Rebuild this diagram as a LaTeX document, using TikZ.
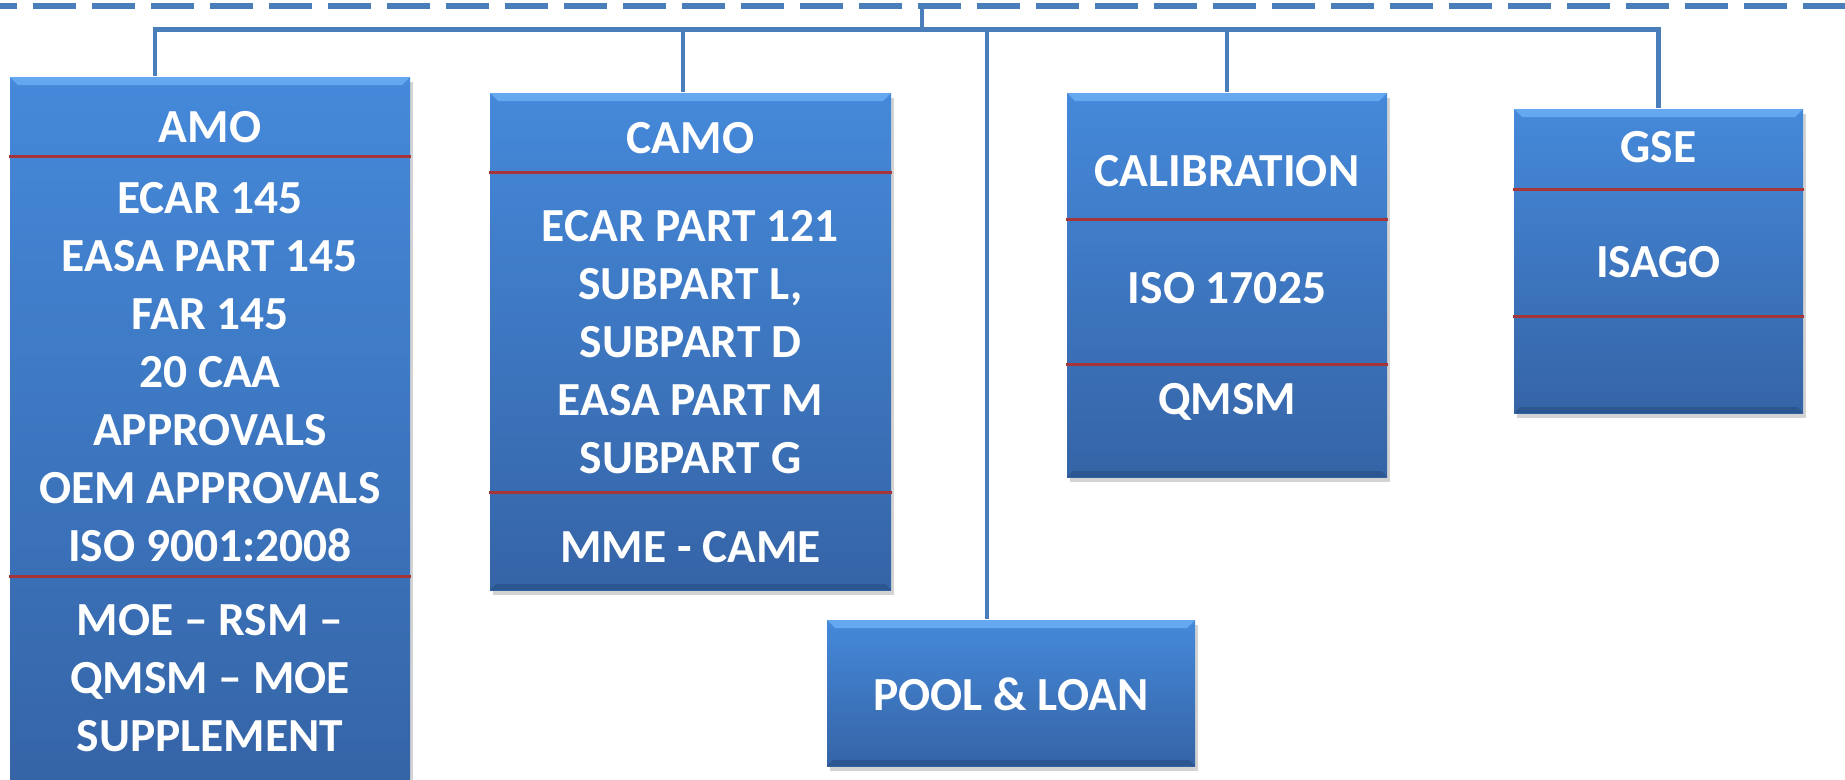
\documentclass[tikz,border=0pt]{standalone}
\usepackage{fontspec}
\setmainfont{Carlito}
\usetikzlibrary{shadows, calc}

\definecolor{boxtop}{HTML}{4589DA}
\definecolor{boxbottom}{HTML}{3564A6}
\definecolor{bevel}{HTML}{66A8F0}
\definecolor{rim}{HTML}{2C5690}
\definecolor{linkblue}{HTML}{4A7EBB}
\definecolor{divred}{HTML}{A53538}

\begin{document}
\begin{tikzpicture}[
    box/.style={rectangle, inner sep=0pt, top color=boxtop, bottom color=boxbottom,
      drop shadow={shadow xshift=0.03cm, shadow yshift=-0.05cm, opacity=0.35},
      path picture={
        \fill[bevel] (path picture bounding box.north west) -- (path picture bounding box.north east)
          -- ([xshift=-0.08cm,yshift=-0.08cm]path picture bounding box.north east)
          -- ([xshift=0.08cm,yshift=-0.08cm]path picture bounding box.north west) -- cycle;
        \fill[rim] (path picture bounding box.south west) -- (path picture bounding box.south east)
          -- ([xshift=-0.06cm,yshift=0.06cm]path picture bounding box.south east)
          -- ([xshift=0.06cm,yshift=0.06cm]path picture bounding box.south west) -- cycle;
      }},
    label/.style={text=white, align=center, inner sep=0pt, font=\fontsize{13.5}{16.5}\selectfont\bfseries},
    divider/.style={draw=divred, line width=0.8pt},
    link/.style={draw=linkblue, line width=1.4pt},
    bar/.style={draw=linkblue, line width=1.5pt, dash pattern=on 0.43cm off 0.16cm, dash phase=0.26cm}
]
\useasboundingbox (0,0) rectangle (18.45,-7.79);

% Top line
\coordinate (topleft) at (0,-0.06);
\coordinate (topright) at (18.45,-0.06);
\coordinate (bus) at (9.22,-0.295);
\draw[bar] (topleft) -- (topright);

% Boxes
\node[box, minimum width=4.00cm, minimum height=7.10cm] (amo) at (2.10,-4.32) {};
\node[box, minimum width=4.01cm, minimum height=4.97cm] (camo) at (6.905,-3.415) {};
\node[box, minimum width=3.68cm, minimum height=1.46cm] (pool) at (10.11,-6.93) {};
\node[box, minimum width=3.20cm, minimum height=3.84cm] (cal) at (12.27,-2.85) {};
\node[box, minimum width=2.89cm, minimum height=3.04cm] (gse) at (16.585,-2.61) {};

% Dividers
\draw[divider] ($(amo.north west)+(0,-0.80)$) -- ($(amo.north east)+(0,-0.80)$);
\draw[divider] ($(amo.north west)+(0,-5.00)$) -- ($(amo.north east)+(0,-5.00)$);
\draw[divider] ($(camo.north west)+(0,-0.80)$) -- ($(camo.north east)+(0,-0.80)$);
\draw[divider] ($(camo.north west)+(0,-4.00)$) -- ($(camo.north east)+(0,-4.00)$);
\draw[divider] ($(cal.north west)+(0,-1.27)$) -- ($(cal.north east)+(0,-1.27)$);
\draw[divider] ($(cal.north west)+(0,-2.72)$) -- ($(cal.north east)+(0,-2.72)$);
\draw[divider] ($(gse.north west)+(0,-0.81)$) -- ($(gse.north east)+(0,-0.81)$);
\draw[divider] ($(gse.north west)+(0,-2.08)$) -- ($(gse.north east)+(0,-2.08)$);

% Texts
\node[label] (amotitle) at (2.10,-1.27) {AMO};
\node[label] (amobody) at (2.10,-3.72) {ECAR 145\\EASA PART 145\\FAR 145\\20 CAA\\APPROVALS\\OEM APPROVALS\\ISO 9001:2008};
\node[label] (amodoc) at (2.10,-6.78) {MOE – RSM –\\QMSM – MOE\\SUPPLEMENT};
\node[label] (camotitle) at (6.905,-1.38) {CAMO};
\node[label] (camobody) at (6.905,-3.42) {ECAR PART 121\\SUBPART L,\\SUBPART D\\EASA PART M\\SUBPART G};
\node[label] (camodoc) at (6.905,-5.47) {MME - CAME};
\node[label] (pooltext) at (10.11,-6.94) {POOL \& LOAN};
\node[label] (caltitle) at (12.27,-1.71) {CALIBRATION};
\node[label] (calbody) at (12.27,-2.88) {ISO 17025};
\node[label] (caldoc) at (12.27,-4.02) {QMSM};
\node[label] (gsetitle) at (16.585,-1.47) {GSE};
\node[label] (gsebody) at (16.585,-2.62) {ISAGO};

% Connections
\draw[link] (bus) -- (bus |- topleft);
\draw[link] ([xshift=-0.55cm]amo.north) |- (gse.north |- bus) -- (gse.north);
\draw[link] ([xshift=-0.075cm]camo.north) -- ([xshift=-0.075cm]camo.north |- bus);
\draw[link] ([xshift=-0.24cm]pool.north) -- ([xshift=-0.24cm]pool.north |- bus);
\draw[link] (cal.north) -- (cal.north |- bus);

\end{tikzpicture}
\end{document}
